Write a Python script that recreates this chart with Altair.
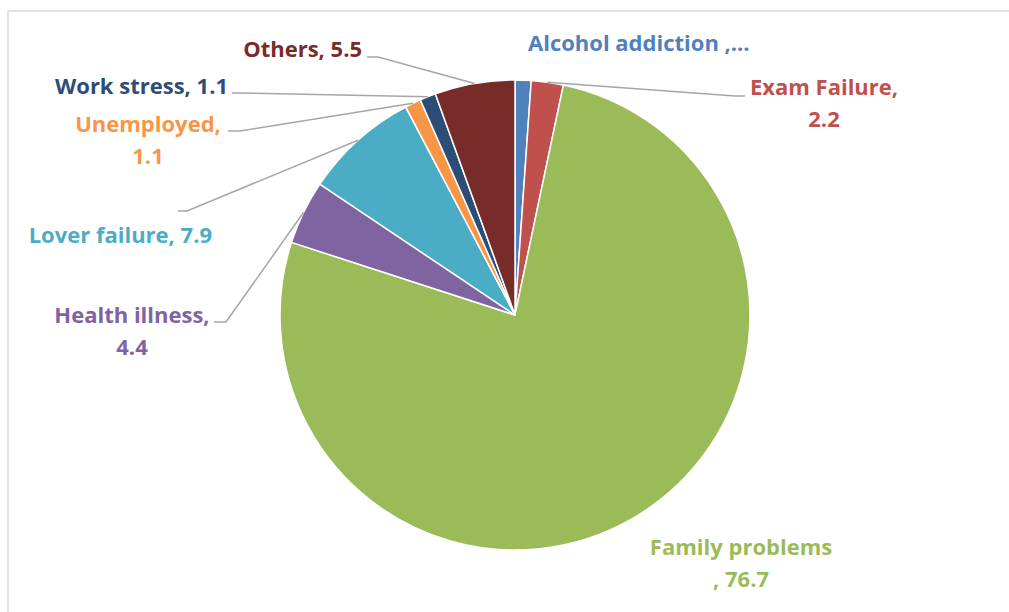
import altair as alt
import pandas as pd
import numpy as np

# ---- data ----
categories = ["Alcohol addiction", "Exam Failure", "Family problems", "Health illness",
              "Lover failure", "Unemployed", "Work stress", "Others"]
values = [1.1, 2.2, 76.7, 4.4, 7.9, 1.1, 1.1, 5.5]
label_lines = [["Alcohol addiction ,..."], ["Exam Failure,", "2.2"], ["Family problems", ", 76.7"],
               ["Health illness,", "4.4"], ["Lover failure, 7.9"], ["Unemployed,", "1.1"],
               ["Work stress, 1.1"], ["Others, 5.5"]]

# ---- styles / layout ----
colors = ["#4F81BD", "#C0504D", "#9BBB59", "#8064A2", "#4BACC6", "#F79646", "#2C4D75", "#772C2A"]
W, H = 1009, 612
CX, CY, R = 515, 315, 235
FONT = "Open Sans"
FSIZE = 22
LINE_H = 32
# label anchor: (x, y of first line centre, align)
label_anchor = {
    "Alcohol addiction": (528, 44, "left"),
    "Exam Failure": (824, 88, "center"),
    "Family problems": (741, 548, "center"),
    "Health illness": (132, 316, "center"),
    "Lover failure": (212, 236, "right"),
    "Unemployed": (148, 125, "center"),
    "Work stress": (228, 87, "right"),
    "Others": (362, 50, "right"),
}
# leader: elbow and end points
leader_pts = {
    "Exam Failure": [(735, 96), (745, 96)],
    "Health illness": [(226, 322), (214, 322)],
    "Lover failure": [(187, 211), (178, 211)],
    "Unemployed": [(240, 131), (228, 131)],
    "Work stress": [(240, 93), (232, 93)],
    "Others": [(378, 57), (367, 57)],
}

df = pd.DataFrame({"category": categories, "value": values, "idx": range(len(values))})

# mid angles for leader starts
vals = np.array(values)
cum = np.cumsum(vals) - vals / 2
ang = cum / vals.sum() * 2 * np.pi
rows = []
for i, c in enumerate(categories):
    if c in leader_pts:
        sx = CX + R * np.sin(ang[i])
        sy = CY - R * np.cos(ang[i])
        pts = [(sx, sy)] + leader_pts[c]
        for k, (px, py) in enumerate(pts):
            rows.append({"category": c, "k": k, "px": px, "py": py})
lead_df = pd.DataFrame(rows)

trows = []
for i, c in enumerate(categories):
    ax, ay, al = label_anchor[c]
    for j, t in enumerate(label_lines[i]):
        trows.append({"category": c, "text": t, "px": ax, "py": ay + j * LINE_H, "align": al})
text_df = pd.DataFrame(trows)

xs = alt.Scale(domain=[0, W], range=[0, W], nice=False, zero=False)
ys = alt.Scale(domain=[0, H], range=[0, H], nice=False, zero=False)
cscale = alt.Scale(domain=categories, range=colors)

frame_top = alt.Chart(pd.DataFrame({"a": [0]})).mark_rule(color="#D9D9D9", strokeWidth=1.5).encode(
    x=alt.value(8), x2=alt.value(W), y=alt.value(11))
frame_left = alt.Chart(pd.DataFrame({"a": [0]})).mark_rule(color="#D9D9D9", strokeWidth=1.5).encode(
    x=alt.value(8), y=alt.value(11), y2=alt.value(H))

pie = alt.Chart(df).mark_arc(radius=R, stroke="white", strokeWidth=1.5).encode(
    theta=alt.Theta("value:Q", stack=True),
    color=alt.Color("category:N", scale=cscale, legend=None),
    order=alt.Order("idx:Q", sort="ascending"),
    x=alt.value(CX), y=alt.value(CY),
)

leaders = alt.Chart(lead_df).mark_line(color="#A6A6A6", strokeWidth=1.5).encode(
    x=alt.X("px:Q", scale=xs, axis=None),
    y=alt.Y("py:Q", scale=ys, axis=None),
    detail="category:N",
    order="k:Q",
)

def text_layer(al):
    return alt.Chart(text_df[text_df["align"] == al]).mark_text(
        align=al, baseline="middle", font=FONT, fontSize=FSIZE, fontWeight="bold").encode(
        x=alt.X("px:Q", scale=xs, axis=None),
        y=alt.Y("py:Q", scale=ys, axis=None),
        text="text:N",
        color=alt.Color("category:N", scale=cscale, legend=None),
    )

chart = alt.layer(frame_top, frame_left, pie, leaders,
                  text_layer("left"), text_layer("right"), text_layer("center")).properties(
    width=W, height=H, padding=0, autosize=alt.AutoSizeParams(type="none"),
    background="white",
).configure_view(stroke=None)

chart.save("out.html", embed_options={"renderer": "svg", "actions": False})
